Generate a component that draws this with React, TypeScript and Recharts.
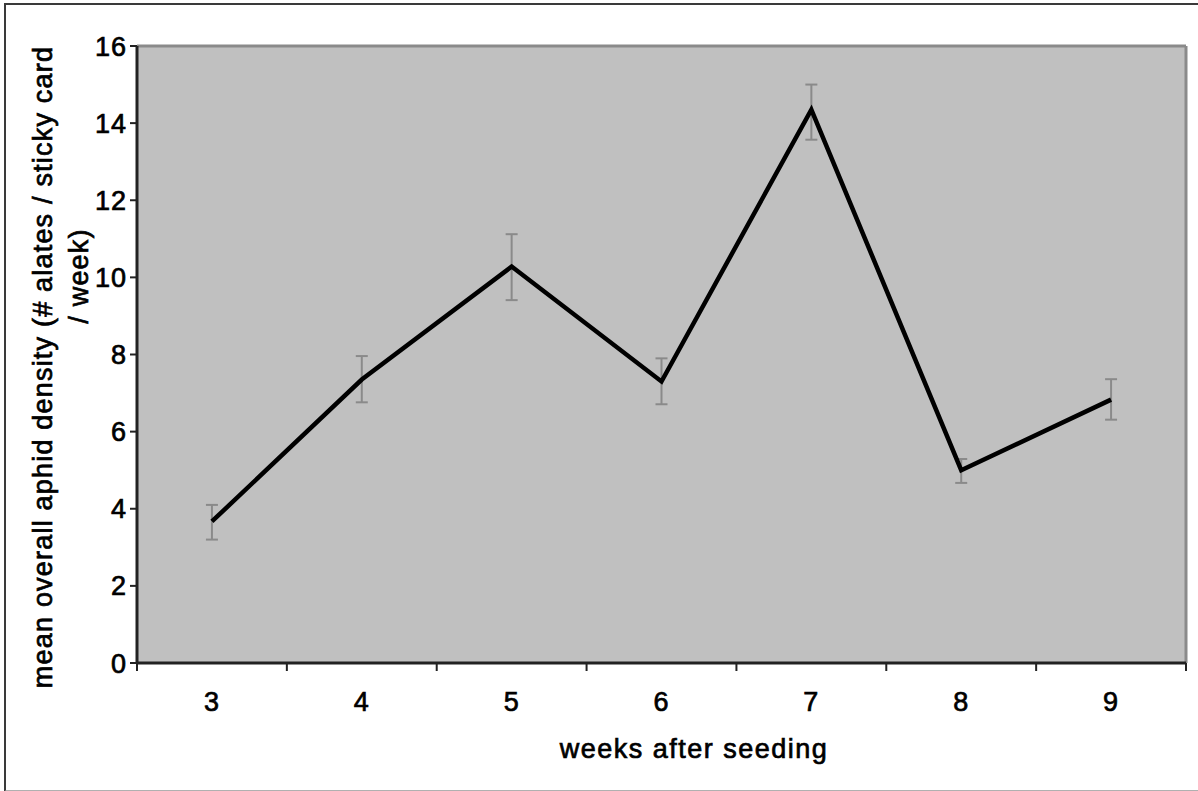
import { LineChart, Line, XAxis, YAxis, CartesianGrid, ErrorBar, ReferenceLine } from 'recharts'

const weeks = [3, 4, 5, 6, 7, 8, 9]
const meanDensity = [3.67, 7.35, 10.28, 7.3, 14.35, 5.0, 6.83]
const upperBound = [4.1, 7.96, 11.12, 7.9, 15.0, 5.29, 7.36]
const lowerBound = [3.2, 6.76, 9.41, 6.71, 13.57, 4.67, 6.31]
const yTicks = [0, 2, 4, 6, 8, 10, 12, 14, 16]

const FONT = '"Liberation Sans", Arial, sans-serif'
// the scanned figure has slightly heavier type than a regular face
const HEAVY = { stroke: '#000', strokeWidth: 0.7 }

const data = weeks.map((w, i) => ({
  week: w,
  density: meanDensity[i],
  err: [meanDensity[i] - lowerBound[i], upperBound[i] - meanDensity[i]],
}))

// category boundaries get a tick mark, category centres get the label
const xTicks = [...weeks.map(w => w - 0.5), weeks[weeks.length - 1] + 0.5, ...weeks].sort((a, b) => a - b)

function WeekTick({ x, y, payload }: any) {
  const v = Number(payload.value)
  if (v % 1 !== 0) {
    return <line x1={x} x2={x} y1={y - 8} y2={y} stroke="#222" strokeWidth={2} />
  }
  return (
    <text x={x} y={y} dy={40} textAnchor="middle" fill="#000" {...HEAVY}
      style={{ fontFamily: FONT, fontSize: 27, letterSpacing: 1 }}>
      {v}
    </text>
  )
}

function DensityTick({ x, y, payload }: any) {
  return (
    <text x={x} y={y} dy="0.355em" textAnchor="end" fill="#000" {...HEAVY}
      style={{ fontFamily: FONT, fontSize: 27, letterSpacing: 1 }}>
      {payload.value}
    </text>
  )
}

export default function App() {
  return (
    <div style={{ position: 'absolute', left: 0, top: 0, width: 1198, height: 791, background: '#fff', overflow: 'hidden' }}>
      <div style={{
        position: 'absolute', left: 4, top: 3, width: 1200, height: 785,
        borderLeft: '2px solid #3a3a3a', borderTop: '2px solid #3a3a3a', borderBottom: '2px solid #b0b0b0',
      }} />
      <div style={{ position: 'absolute', left: 0, top: 0 }}>
        <LineChart width={1198} height={791} data={data} margin={{ top: 46, right: 12, bottom: 0, left: 0 }}>
          <CartesianGrid horizontal={false} vertical={false} fill="#c0c0c0" />
          <XAxis
            dataKey="week"
            type="number"
            domain={[2.5, 9.5]}
            ticks={xTicks}
            interval={0}
            height={128}
            tickSize={8}
            tickMargin={0}
            tickLine={false}
            tick={<WeekTick />}
            axisLine={{ stroke: '#222', strokeWidth: 3 }}
            label={{
              content: () => (
                <text x={694} y={758} textAnchor="middle" fill="#000" {...HEAVY}
                  style={{ fontFamily: FONT, fontSize: 27, letterSpacing: 1.5 }}>
                  weeks after seeding
                </text>
              ),
            }}
          />
          <YAxis
            type="number"
            domain={[0, 16]}
            ticks={yTicks}
            width={137}
            tickSize={7}
            tickMargin={3}
            tickLine={{ stroke: '#222', strokeWidth: 2 }}
            axisLine={{ stroke: '#222', strokeWidth: 3 }}
            tick={<DensityTick />}
            label={{
              content: () => (
                <g style={{ fontFamily: FONT, fontSize: 27, letterSpacing: 1.2 }} fill="#000" {...HEAVY}>
                  <text x={43} y={367} textAnchor="middle" dominantBaseline="central" transform="rotate(-90 43 367)">
                    mean overall aphid density (# alates / sticky card
                  </text>
                  <text x={79} y={276} textAnchor="middle" dominantBaseline="central" transform="rotate(-90 79 276)">
                    / week)
                  </text>
                </g>
              ),
            }}
          />
          <ReferenceLine y={16} stroke="#8a8a8a" strokeWidth={3} />
          <ReferenceLine x={9.5} stroke="#8a8a8a" strokeWidth={3} />
          <Line dataKey="density" stroke="none" dot={false} isAnimationActive={false} legendType="none">
            <ErrorBar dataKey="err" direction="y" width={6} stroke="#8a8a8a" strokeWidth={2} />
          </Line>
          <Line
            type="linear"
            dataKey="density"
            stroke="#000"
            strokeWidth={4.5}
            dot={false}
            activeDot={false}
            isAnimationActive={false}
          />
        </LineChart>
      </div>
    </div>
  )
}
